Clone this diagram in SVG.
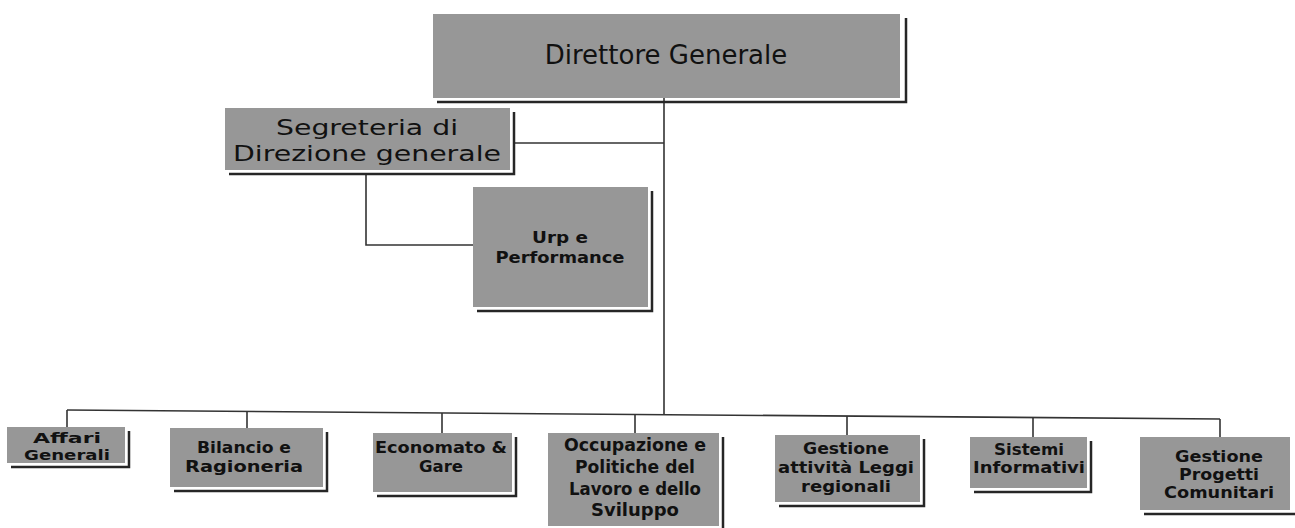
<svg xmlns="http://www.w3.org/2000/svg" width="1295" height="528" viewBox="0 0 1295 528">
  <style>
    .box { fill: #979797; }
    .shadow { fill: none; stroke: #262626; stroke-width: 2.5; }
    .conn { fill: none; stroke: #333333; stroke-width: 1.6; }
    .title { font-family: "DejaVu Sans", "Liberation Sans", sans-serif; fill: #111111; text-anchor: middle; }
    .lbl { font-family: "DejaVu Sans", "Liberation Sans", sans-serif; font-weight: bold; fill: #111111; text-anchor: middle; }
  </style>
  <rect width="1295" height="528" fill="#ffffff"/>

  <g id="connectors">
    <line class="conn" x1="664" y1="98" x2="664" y2="415" stroke-width="2.4"/>
    <line class="conn" x1="513" y1="143" x2="664" y2="143"/>
    <polyline class="conn" points="366,175 366,245 473,245"/>
    <line class="conn" x1="67" y1="410" x2="1220" y2="419"/>
    <line class="conn" x1="67" y1="410" x2="67" y2="427"/>
    <line class="conn" x1="247" y1="411.4" x2="247" y2="428"/>
    <line class="conn" x1="442" y1="412.9" x2="442" y2="433"/>
    <line class="conn" x1="635" y1="414.4" x2="635" y2="433"/>
    <line class="conn" x1="847" y1="416.1" x2="847" y2="435"/>
    <line class="conn" x1="1033" y1="417.5" x2="1033" y2="437"/>
    <line class="conn" x1="1220" y1="419" x2="1220" y2="437"/>
  </g>

  <g id="direttore">
    <rect class="box" x="433" y="14" width="467" height="84"/>
    <polyline class="shadow" points="906,18 906,102 437,102"/>
    <text class="title" x="666" y="64" font-size="26">Direttore Generale</text>
  </g>

  <g id="segreteria">
    <rect class="box" x="225" y="108" width="285" height="62"/>
    <polyline class="shadow" points="514,112 514,174 229,174"/>
    <text class="title" x="367" y="135" font-size="22" textLength="182" lengthAdjust="spacingAndGlyphs">Segreteria di</text>
    <text class="title" x="367" y="161" font-size="22" textLength="268" lengthAdjust="spacingAndGlyphs">Direzione generale</text>
  </g>

  <g id="urp">
    <rect class="box" x="473" y="187" width="175" height="120"/>
    <polyline class="shadow" points="652,191 652,311 477,311"/>
    <text class="lbl" x="560" y="243" font-size="16" textLength="56" lengthAdjust="spacingAndGlyphs">Urp e</text>
    <text class="lbl" x="560" y="263" font-size="16" textLength="129" lengthAdjust="spacingAndGlyphs">Performance</text>
  </g>

  <g id="affari">
    <rect class="box" x="7" y="427" width="118" height="36"/>
    <polyline class="shadow" points="129,431 129,467 11,467"/>
    <text class="lbl" x="67" y="443" font-size="14" textLength="68" lengthAdjust="spacingAndGlyphs">Affari</text>
    <text class="lbl" x="67" y="460" font-size="14" textLength="86" lengthAdjust="spacingAndGlyphs">Generali</text>
  </g>

  <g id="bilancio">
    <rect class="box" x="170" y="428" width="153" height="59"/>
    <polyline class="shadow" points="327,432 327,491 174,491"/>
    <text class="lbl" x="244" y="453" font-size="16" textLength="94" lengthAdjust="spacingAndGlyphs">Bilancio e</text>
    <text class="lbl" x="244" y="472" font-size="16" textLength="118" lengthAdjust="spacingAndGlyphs">Ragioneria</text>
  </g>

  <g id="economato">
    <rect class="box" x="373" y="433" width="139" height="59"/>
    <polyline class="shadow" points="516,437 516,496 377,496"/>
    <text class="lbl" x="441" y="453" font-size="16" textLength="132" lengthAdjust="spacingAndGlyphs">Economato &amp;</text>
    <text class="lbl" x="441" y="472" font-size="16" textLength="44" lengthAdjust="spacingAndGlyphs">Gare</text>
  </g>

  <g id="occupazione">
    <rect class="box" x="548" y="433" width="171" height="93"/>
    <polyline class="shadow" points="723,437 723,528"/>
    <text class="lbl" x="635" y="451" font-size="17" textLength="142" lengthAdjust="spacingAndGlyphs">Occupazione e</text>
    <text class="lbl" x="635" y="473" font-size="17" textLength="120" lengthAdjust="spacingAndGlyphs">Politiche del</text>
    <text class="lbl" x="635" y="495" font-size="17" textLength="132" lengthAdjust="spacingAndGlyphs">Lavoro e dello</text>
    <text class="lbl" x="635" y="516" font-size="17" textLength="88" lengthAdjust="spacingAndGlyphs">Sviluppo</text>
  </g>

  <g id="leggi">
    <rect class="box" x="775" y="435" width="145" height="67"/>
    <polyline class="shadow" points="924,439 924,506 779,506"/>
    <text class="lbl" x="846" y="454" font-size="16" textLength="86" lengthAdjust="spacingAndGlyphs">Gestione</text>
    <text class="lbl" x="846" y="473" font-size="16" textLength="136" lengthAdjust="spacingAndGlyphs">attività Leggi</text>
    <text class="lbl" x="846" y="492" font-size="16" textLength="90" lengthAdjust="spacingAndGlyphs">regionali</text>
  </g>

  <g id="sistemi">
    <rect class="box" x="970" y="437" width="117" height="51"/>
    <polyline class="shadow" points="1091,441 1091,492 974,492"/>
    <text class="lbl" x="1029" y="455" font-size="15" textLength="70" lengthAdjust="spacingAndGlyphs">Sistemi</text>
    <text class="lbl" x="1029" y="473" font-size="15" textLength="112" lengthAdjust="spacingAndGlyphs">Informativi</text>
  </g>

  <g id="progetti">
    <rect class="box" x="1140" y="437" width="150" height="73"/>
    <polyline class="shadow" points="1144,514 1295,514"/>
    <text class="lbl" x="1219" y="462" font-size="15" textLength="88" lengthAdjust="spacingAndGlyphs">Gestione</text>
    <text class="lbl" x="1219" y="480" font-size="15" textLength="80" lengthAdjust="spacingAndGlyphs">Progetti</text>
    <text class="lbl" x="1219" y="498" font-size="15" textLength="110" lengthAdjust="spacingAndGlyphs">Comunitari</text>
  </g>
</svg>
